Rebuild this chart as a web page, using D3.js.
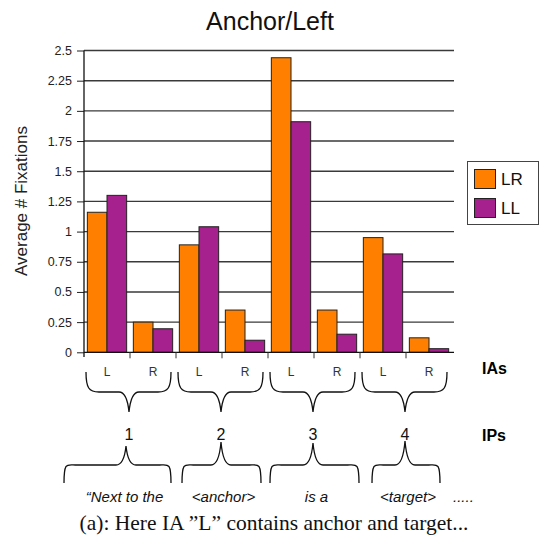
<!DOCTYPE html>
<html>
<head>
<meta charset="utf-8">
<script src="https://cdn.jsdelivr.net/npm/d3@7"></script>
<style>
body { margin: 0; background: #fff; }
svg { display: block; }
svg text { font-family: Arial, "Liberation Sans", Helvetica, sans-serif; }
svg text.serif { font-family: "Liberation Serif", "Times New Roman", serif; }
</style>
</head>
<body>
<svg width="540" height="545"></svg>
<script>

// data
var ipLabels = ["1", "2", "3", "4"];
var iaLabels = ["L", "R"];
var seriesNames = ["LR", "LL"];
var lrValues = [1.16, 0.25, 0.89, 0.35, 2.44, 0.35, 0.95, 0.12];
var llValues = [1.30, 0.195, 1.04, 0.10, 1.91, 0.15, 0.815, 0.03];
var yTicks = [0, 0.25, 0.5, 0.75, 1, 1.25, 1.5, 1.75, 2, 2.25, 2.5];
var phrases = ["\u201cNext to the", "<anchor>", "is a", "<target>"];

var colors = { LR: "#ff8000", LL: "#a6208e" };

var svg = d3.select("svg");

// one band per IA, in IP order
var cats = [];
ipLabels.forEach(function(ip) {
	iaLabels.forEach(function(ia) { cats.push(ip + ia); });
});
var rows = cats.map(function(c, i) {
	return { cat: c, ip: c.slice(0, -1), ia: c.slice(-1), LR: lrValues[i], LL: llValues[i] };
});

var x = d3.scaleBand().domain(cats).range([84, 452]).paddingInner(0).paddingOuter(0);
var inner = d3.scaleBand().domain(seriesNames).range([0, x.bandwidth()]).paddingOuter(0.17);
var y = d3.scaleLinear().domain([0, 2.5]).range([352.3, 50.5]);

// title
svg.append("text")
	.attr("x", 270).attr("y", 30)
	.attr("text-anchor", "middle")
	.style("font-size", "25px").style("fill", "#111")
	.text("Anchor/Left");

// grid
svg.append("g").selectAll("line")
	.data(yTicks.slice(1))
	.enter().append("line")
	.attr("x1", 84).attr("x2", 454)
	.attr("y1", function(d) { return y(d); })
	.attr("y2", function(d) { return y(d); })
	.attr("stroke", "#3a3a3a").attr("stroke-width", 1.4);

// y axis
var yAxis = svg.append("g")
	.attr("transform", "translate(84,0)")
	.call(d3.axisLeft(y).tickValues(yTicks).tickSize(7).tickPadding(5)
		.tickFormat(function(d) { return String(d); }));
yAxis.select(".domain").remove();
yAxis.selectAll("line").attr("stroke", "#222");
yAxis.selectAll("text").style("font-size", "12.5px").style("fill", "#222");
svg.append("line")
	.attr("x1", 84).attr("x2", 84).attr("y1", y(2.5)).attr("y2", 357)
	.attr("stroke", "#111").attr("stroke-width", 1.3);

svg.append("text")
	.attr("transform", "translate(27,201) rotate(-90)")
	.attr("text-anchor", "middle")
	.style("font-size", "17px").style("fill", "#222")
	.text("Average # Fixations");

// bars
var groups = svg.append("g").selectAll("g")
	.data(rows)
	.enter().append("g")
	.attr("transform", function(d) { return "translate(" + x(d.cat) + ",0)"; });

groups.selectAll("rect")
	.data(function(d) { return seriesNames.map(function(s) { return { key: s, value: d[s] }; }); })
	.enter().append("rect")
	.attr("x", function(d) { return inner(d.key); })
	.attr("width", inner.bandwidth())
	.attr("y", function(d) { return y(d.value); })
	.attr("height", function(d) { return y(0) - y(d.value); })
	.attr("fill", function(d) { return colors[d.key]; })
	.attr("stroke", "#222").attr("stroke-width", 1);

// x axis
svg.append("line")
	.attr("x1", 84).attr("x2", 454).attr("y1", y(0)).attr("y2", y(0))
	.attr("stroke", "#111").attr("stroke-width", 1.3);
svg.append("g").selectAll("line")
	.data(cats.slice(1))
	.enter().append("line")
	.attr("x1", function(d) { return x(d); }).attr("x2", function(d) { return x(d); })
	.attr("y1", y(0)).attr("y2", y(0) + 6)
	.attr("stroke", "#333");

svg.append("g").selectAll("text")
	.data(rows)
	.enter().append("text")
	.attr("x", function(d) { return x(d.cat) + x.bandwidth() / 2; })
	.attr("y", 376)
	.attr("text-anchor", "middle")
	.style("font-size", "12px").style("fill", "#333")
	.text(function(d) { return d.ia; });

svg.append("text")
	.attr("x", 482).attr("y", 374)
	.style("font-size", "16px").style("font-weight", "bold")
	.text("IAs");

// legend
var legend = svg.append("g");
legend.append("rect")
	.attr("x", 467.5).attr("y", 161.5).attr("width", 71).attr("height", 63)
	.attr("fill", "#fff").attr("stroke", "#444");
seriesNames.forEach(function(s, i) {
	legend.append("rect")
		.attr("x", 474.5).attr("y", 169.5 + i * 29).attr("width", 21).attr("height", 19)
		.attr("fill", colors[s]).attr("stroke", "#222");
	legend.append("text")
		.attr("x", 501).attr("y", 185 + i * 29)
		.style("font-size", "17px").style("fill", "#111")
		.text(s);
});

// braces
function braceDown(x0, x1, xm, yTop, yMid, yTip) {
	var r = 10;
	return "M" + x0 + "," + yTop +
		"C" + x0 + "," + (yMid - 4) + " " + (x0 + 3) + "," + yMid + " " + (x0 + r + 3) + "," + yMid +
		"L" + (xm - r) + "," + yMid +
		"Q" + (xm - 2) + "," + yMid + " " + xm + "," + yTip +
		"Q" + (xm + 2) + "," + yMid + " " + (xm + r) + "," + yMid +
		"L" + (x1 - r - 3) + "," + yMid +
		"C" + (x1 - 3) + "," + yMid + " " + x1 + "," + (yMid - 4) + " " + x1 + "," + yTop;
}

var ipX = function(ip) { return x(ip + "L"); };
var groupW = x.bandwidth() * 2;

svg.append("g").selectAll("path")
	.data(ipLabels)
	.enter().append("path")
	.attr("d", function(ip) {
		var g0 = ipX(ip);
		return braceDown(g0 + 2, g0 + groupW - 5, g0 + groupW / 2 - 1, 372, 392, 412);
	})
	.attr("fill", "none").attr("stroke", "#111").attr("stroke-width", 1.3);

svg.append("g").selectAll("text")
	.data(ipLabels)
	.enter().append("text")
	.attr("x", function(ip) { return ipX(ip) + groupW / 2 - 1; })
	.attr("y", 440)
	.attr("text-anchor", "middle")
	.style("font-size", "16px").style("fill", "#111")
	.text(function(d) { return d; });

svg.append("text")
	.attr("x", 482).attr("y", 441)
	.style("font-size", "16px").style("font-weight", "bold")
	.text("IPs");

// lower braces, one per phrase (left, right, tip, tip top)
var phraseBraces = [[64, 171, 126, 446], [182, 261, 221, 442], [270, 359, 313, 443], [372, 440, 405, 441]];
svg.append("g").selectAll("path")
	.data(phraseBraces)
	.enter().append("path")
	.attr("d", function(b) { return braceDown(b[0], b[1], b[2], 483, 465, b[3]); })
	.attr("fill", "none").attr("stroke", "#111").attr("stroke-width", 1.3);

svg.append("g").selectAll("text")
	.data(phrases)
	.enter().append("text")
	.attr("x", function(d, i) { return (phraseBraces[i][0] + phraseBraces[i][1]) / 2 + (i === 0 ? 7 : 2); })
	.attr("y", 502)
	.attr("text-anchor", "middle")
	.style("font-size", "15px").style("font-style", "italic").style("fill", "#111")
	.text(function(d) { return d; });
svg.append("text")
	.attr("x", 453).attr("y", 502)
	.style("font-size", "15px").style("font-style", "italic").style("fill", "#111")
	.text(".....");

// caption
svg.append("text").attr("class", "serif")
	.attr("x", 274).attr("y", 530)
	.attr("text-anchor", "middle")
	.style("font-size", "21.5px").style("fill", "#111")
	.text("(a): Here IA \u201dL\u201d contains anchor and target...");

</script>
</body>
</html>
